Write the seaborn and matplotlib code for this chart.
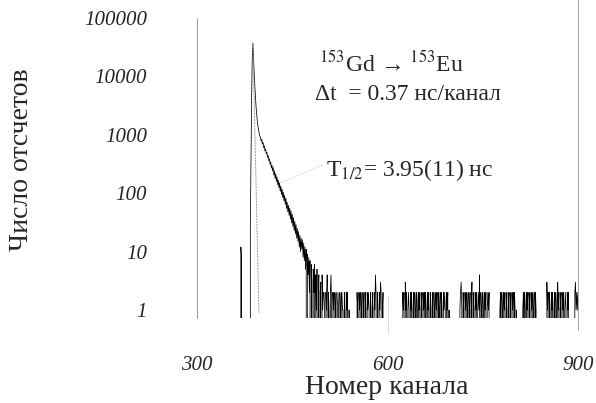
import numpy as np
import pandas as pd
import seaborn as sns
import matplotlib
matplotlib.use("Agg")
import matplotlib.pyplot as plt

# spectrum 153Gd -> 153Eu, counts per channel (channel 300..900)
first_channel = 300
# channels 300..383: empty except a small prompt bump at 369-370
lead_counts = [0] * 69 + [12, 9] + [0] * 13
# prompt peak, channels 384..398
peak_counts = [30, 300, 4000, 20000, 37000, 22000, 12000, 7000, 4500, 3000,
               2200, 1700, 1400, 1200, 1050]
# delayed decay, channels 399..499
decay_counts = [950,
                905, 780, 840, 690, 745, 600, 650, 530, 575, 470,
                505, 410, 445, 360, 390, 315, 345, 270, 305, 240,
                275, 205, 240, 180, 215, 160, 190, 140, 168, 125,
                150, 108, 132, 95, 118, 84, 104, 74, 92, 64,
                82, 55, 70, 48, 62, 42, 56, 36, 50, 31,
                44, 27, 38, 23, 33, 20, 29, 17, 25, 15,
                22, 12, 19, 10, 17, 11, 16, 8, 14, 7,
                12, 5, 11, 0, 9, 4, 8, 2, 7, 0,
                6, 3, 0, 5, 2, 6, 0, 4, 1, 5,
                0, 3, 4, 0, 2, 3, 0, 4, 1, 2]
# background, channels 500..900 (one digit per channel)
background_rows = [
    "2102140210" "2410212012" "0121021021" "1021021201",
    "1000000000" "0021021201" "2012021021" "2102102102",
    "1420210213" "2012000000" "0000000000" "0000000000",
    "0000212031" "2012102120" "1202102102" "1201202120",
    "2102120120" "1202102120" "2012021021" "2102120100",
    "0000000000" "0000123102" "1021201201" "2013021021",
    "2012140210" "2102120121" "2000000000" "0000000120",
    "2102120120" "1202102120" "2101000000" "0001202102",
    "1202102120" "1202100000" "0000000000" "0312021021",
    "2012021031" "2012021201" "2102120000" "0000023121",
    "2",
]

# prompt response curve (grey) and leader line to the decay
prompt_channel = [388, 397.5]
prompt_counts = [37000, 0.9]
leader_channel = [497, 432]
leader_counts = [300, 150]

x_ticks = [300, 600, 900]
y_ticks = [1, 10, 100, 1000, 10000, 100000]
y_ticklabels = ["1", "10", "100", "1000", "10000", "100000"]

background_counts = [int(c) for row in background_rows for c in row]
counts = lead_counts + peak_counts + decay_counts + background_counts
df = pd.DataFrame({"channel": np.arange(first_channel, first_channel + len(counts)),
                   "counts": counts})

sns.set_style("white")
plt.rcParams["font.family"] = ["Liberation Serif", "DejaVu Serif"]
plt.rcParams["mathtext.fontset"] = "stix"

fig = plt.figure(figsize=(5.96, 4.03), dpi=100)
ax = fig.add_axes([197 / 596, 1 - 318 / 403, (578 - 197) / 596, (318 - 18) / 403])

sns.lineplot(data=df, x="channel", y="counts", color="black", linewidth=0.55,
             estimator=None, ax=ax)
sns.lineplot(x=prompt_channel, y=prompt_counts, color="#999999", linewidth=0.7,
             linestyle=(0, (2, 1)), ax=ax)
sns.lineplot(x=leader_channel, y=leader_counts, color="#aaaaaa", linewidth=0.7,
             linestyle=(0, (1, 2)), ax=ax)

ax.set_yscale("log")
ax.set_ylim(0.73, 1e5)
ax.set_xlim(300, 900)
ax.minorticks_off()
ax.set_xticks(x_ticks)
ax.set_xticklabels([str(t) for t in x_ticks], fontstyle="italic", fontsize=15)
ax.set_yticks(y_ticks)
ax.set_yticklabels(y_ticklabels, fontstyle="italic", fontsize=15)
ax.tick_params(axis="x", length=0, pad=27)
ax.tick_params(axis="y", length=4, width=0.5, color="#aaaaaa", pad=32)
ax.set_xlabel("")
ax.set_ylabel("")

for side in ["top", "right", "bottom"]:
    ax.spines[side].set_visible(False)
ax.spines["left"].set_color("#999999")
ax.spines["left"].set_linewidth(0.7)
ax.spines["left"].set_linestyle((0, (2, 1)))

ax.axvline(900, ymin=-0.04, ymax=1.06, color="#aaaaaa", linewidth=0.8, clip_on=False)
ax.axvline(600, ymin=-0.05, ymax=0.08, color="#aaaaaa", linewidth=0.7,
           linestyle=(0, (1, 1.5)), clip_on=False)

fig.text(22 / 596, 1 - 160 / 403, "Число отсчетов", rotation=90, fontsize=20,
         ha="center", va="center")
fig.text(387 / 596, 1 - 394 / 403, "Номер канала", fontsize=20,
         ha="center", va="baseline")

fig.text(391 / 596, 1 - 64 / 403, r"$^{153}$Gd → $^{153}$Eu", fontsize=17,
         ha="center", va="center")
fig.text(408 / 596, 1 - 95 / 403, "Δt  = 0.37 нс/канал", fontsize=17,
         ha="center", va="center")
fig.text(410 / 596, 1 - 170 / 403, r"T$_{1/2}$= 3.95(11) нс", fontsize=17,
         ha="center", va="center")

fig.savefig("out.png", dpi=100)
